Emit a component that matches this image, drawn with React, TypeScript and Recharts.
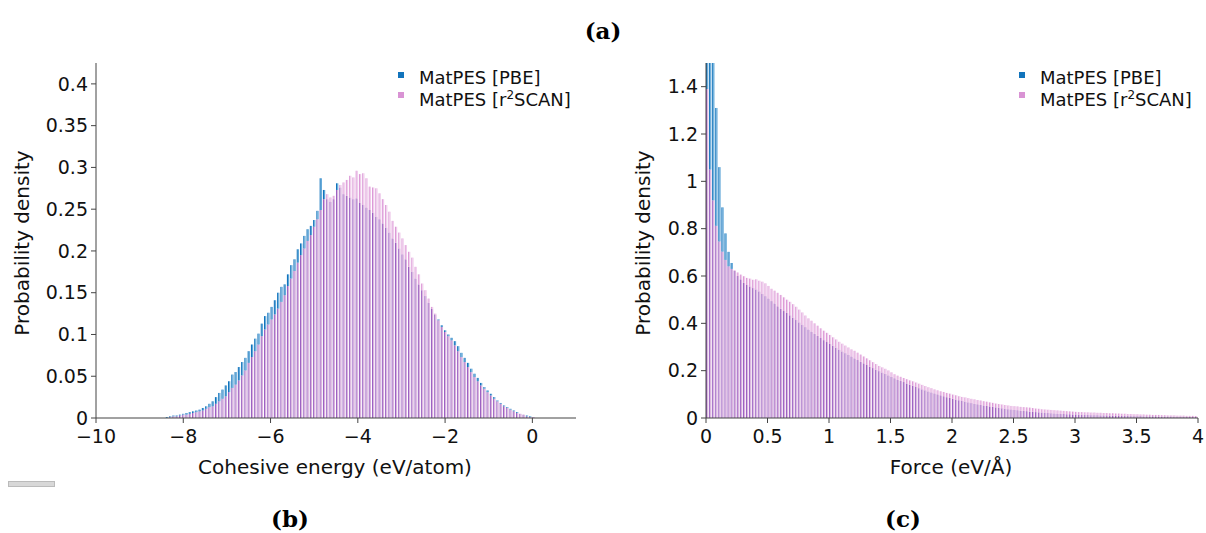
import React from 'react'
import { BarChart, Bar, XAxis, YAxis } from 'recharts'

// (b) cohesive energy histogram, bin width 0.075 eV starting at -8.4
const energyBinStart = -8.4
const energyBinWidth = 0.075
const energyPBE = [
  0.001, 0.002, 0.003, 0.003, 0.004, 0.005, 0.006, 0.007, 0.008, 0.009,
  0.010, 0.012, 0.014, 0.017, 0.020, 0.025, 0.030, 0.034, 0.039, 0.044,
  0.052, 0.055, 0.061, 0.067, 0.072, 0.080, 0.088, 0.095, 0.101, 0.113,
  0.122, 0.126, 0.133, 0.141, 0.150, 0.157, 0.160, 0.172, 0.183, 0.190,
  0.202, 0.209, 0.218, 0.226, 0.230, 0.237, 0.248, 0.287, 0.273, 0.262,
  0.259, 0.262, 0.281, 0.276, 0.268, 0.266, 0.264, 0.262, 0.263, 0.258,
  0.255, 0.252, 0.249, 0.246, 0.241, 0.238, 0.233, 0.228, 0.222, 0.215,
  0.210, 0.203, 0.196, 0.190, 0.181, 0.175, 0.167, 0.160, 0.153, 0.146,
  0.138, 0.131, 0.124, 0.118, 0.111, 0.105, 0.100, 0.096, 0.092, 0.086,
  0.078, 0.072, 0.066, 0.059, 0.053, 0.048, 0.042, 0.037, 0.033, 0.029,
  0.025, 0.021, 0.018, 0.015, 0.013, 0.011, 0.009, 0.007, 0.005, 0.004,
  0.003, 0.002, 0.001, 0.000,
]
const energyR2SCAN = [
  0.000, 0.001, 0.002, 0.002, 0.003, 0.004, 0.004, 0.005, 0.006, 0.007,
  0.008, 0.009, 0.011, 0.013, 0.014, 0.017, 0.020, 0.023, 0.026, 0.031,
  0.036, 0.040, 0.045, 0.051, 0.057, 0.066, 0.073, 0.080, 0.088, 0.098,
  0.106, 0.112, 0.118, 0.124, 0.131, 0.139, 0.147, 0.158, 0.167, 0.176,
  0.186, 0.195, 0.203, 0.212, 0.219, 0.229, 0.238, 0.249, 0.262, 0.268,
  0.264, 0.266, 0.273, 0.279, 0.282, 0.285, 0.290, 0.288, 0.296, 0.292,
  0.293, 0.287, 0.277, 0.276, 0.275, 0.269, 0.262, 0.255, 0.247, 0.236,
  0.229, 0.222, 0.215, 0.207, 0.199, 0.192, 0.181, 0.172, 0.161, 0.153,
  0.143, 0.133, 0.125, 0.117, 0.109, 0.103, 0.098, 0.093, 0.087, 0.080,
  0.073, 0.067, 0.061, 0.055, 0.049, 0.044, 0.039, 0.035, 0.031, 0.027,
  0.023, 0.020, 0.017, 0.014, 0.012, 0.010, 0.008, 0.006, 0.005, 0.004,
  0.002, 0.001, 0.001, 0.000,
]

// (c) force histogram, bin width 0.025 eV/Å starting at 0
const forceBinStart = 0
const forceBinWidth = 0.025
const forcePBE = [
  2.850, 2.410, 1.920, 1.310, 1.060, 0.890, 0.780, 0.702, 0.655, 0.622,
  0.600, 0.586, 0.571, 0.562, 0.556, 0.549, 0.543, 0.535, 0.524, 0.515,
  0.505, 0.494, 0.484, 0.472, 0.462, 0.452, 0.444, 0.434, 0.424, 0.414,
  0.404, 0.394, 0.384, 0.374, 0.365, 0.356, 0.347, 0.338, 0.329, 0.321,
  0.313, 0.305, 0.297, 0.289, 0.281, 0.274, 0.267, 0.260, 0.252, 0.245,
  0.238, 0.231, 0.224, 0.217, 0.211, 0.204, 0.198, 0.192, 0.186, 0.180,
  0.174, 0.168, 0.162, 0.157, 0.152, 0.146, 0.141, 0.136, 0.131, 0.126,
  0.121, 0.117, 0.112, 0.108, 0.104, 0.100, 0.096, 0.092, 0.088, 0.085,
  0.081, 0.078, 0.075, 0.072, 0.069, 0.066, 0.063, 0.060, 0.058, 0.055,
  0.053, 0.051, 0.049, 0.047, 0.045, 0.043, 0.041, 0.039, 0.037, 0.036,
  0.034, 0.033, 0.031, 0.030, 0.029, 0.027, 0.026, 0.025, 0.024, 0.023,
  0.022, 0.021, 0.020, 0.019, 0.018, 0.018, 0.017, 0.016, 0.016, 0.015,
  0.015, 0.014, 0.014, 0.013, 0.013, 0.012, 0.012, 0.012, 0.011, 0.011,
  0.011, 0.010, 0.010, 0.010, 0.009, 0.009, 0.009, 0.009, 0.008, 0.008,
  0.008, 0.008, 0.007, 0.007, 0.007, 0.007, 0.007, 0.006, 0.006, 0.006,
  0.006, 0.006, 0.005, 0.005, 0.005, 0.005, 0.005, 0.005, 0.004, 0.004,
]
const forceR2SCAN = [
  1.390, 1.050, 0.920, 0.812, 0.746, 0.703, 0.668, 0.641, 0.630, 0.624,
  0.615, 0.606, 0.599, 0.592, 0.589, 0.584, 0.586, 0.580, 0.576, 0.569,
  0.558, 0.546, 0.538, 0.529, 0.520, 0.510, 0.500, 0.491, 0.481, 0.470,
  0.458, 0.446, 0.433, 0.421, 0.411, 0.400, 0.390, 0.379, 0.369, 0.360,
  0.351, 0.341, 0.332, 0.322, 0.314, 0.306, 0.298, 0.290, 0.284, 0.276,
  0.268, 0.260, 0.252, 0.244, 0.236, 0.228, 0.220, 0.214, 0.208, 0.201,
  0.193, 0.185, 0.179, 0.174, 0.169, 0.164, 0.159, 0.155, 0.150, 0.145,
  0.140, 0.135, 0.130, 0.126, 0.121, 0.117, 0.113, 0.110, 0.106, 0.103,
  0.099, 0.096, 0.092, 0.089, 0.087, 0.084, 0.081, 0.079, 0.076, 0.074,
  0.071, 0.069, 0.066, 0.064, 0.061, 0.059, 0.057, 0.055, 0.053, 0.051,
  0.050, 0.049, 0.047, 0.046, 0.045, 0.044, 0.042, 0.040, 0.039, 0.037,
  0.036, 0.035, 0.034, 0.033, 0.032, 0.031, 0.030, 0.029, 0.028, 0.027,
  0.026, 0.025, 0.025, 0.024, 0.024, 0.023, 0.023, 0.022, 0.022, 0.021,
  0.021, 0.020, 0.020, 0.019, 0.019, 0.018, 0.018, 0.017, 0.017, 0.016,
  0.016, 0.015, 0.015, 0.014, 0.014, 0.013, 0.013, 0.013, 0.012, 0.012,
  0.011, 0.011, 0.011, 0.010, 0.010, 0.010, 0.009, 0.009, 0.009, 0.008,
]

const energyTicks = [-10, -8, -6, -4, -2, 0]
const energyDensityTicks = [0, 0.05, 0.1, 0.15, 0.2, 0.25, 0.3, 0.35, 0.4]
const forceTicks = [0, 0.5, 1, 1.5, 2, 2.5, 3, 3.5, 4]
const forceDensityTicks = [0, 0.2, 0.4, 0.6, 0.8, 1, 1.2, 1.4]

const FONT = '"DejaVu Sans", sans-serif'
const AXIS = '#444'

const fmt = (v: number) => (v < 0 ? '\u2212' + Math.abs(v) : String(v))

function buildRows(start: number, width: number, pbe: number[], r2: number[]) {
  return pbe.map((p, i) => ({
    x: start + width * (i + 0.5),
    both: Math.min(p, r2[i]),
    pbeOnly: Math.max(0, p - r2[i]),
    r2Only: Math.max(0, r2[i] - p),
  }))
}

// striped bar look: a dark line on the left edge, lighter fill, thin white gap
const striped = (dark: string, light: string) => (props: any) => {
  const { x, y, width, height } = props
  if (!height || height <= 0) return <g />
  const w = Math.max(width - 0.7, 0.6)
  const d = Math.min(1.1, w)
  return (
    <g>
      <rect x={x} y={y} width={d} height={height} fill={dark} />
      <rect x={x + d} y={y} width={Math.max(w - d, 0)} height={height} fill={light} />
    </g>
  )
}

interface HistProps {
  rows: any[]
  width: number
  marginLeft: number
  marginRight: number
  xDomain: [number, number]
  xTicks: number[]
  yDomain: [number, number]
  yTicks: number[]
}

function Histogram({ rows, width, marginLeft, marginRight, xDomain, xTicks, yDomain, yTicks }: HistProps) {
  const tick = { fontSize: 19, fill: '#111', fontFamily: FONT }
  return (
    <BarChart
      width={width}
      height={533}
      data={rows}
      margin={{ top: 63, right: marginRight, bottom: 85, left: marginLeft }}
      barCategoryGap={0}
      barGap={0}
    >
      <XAxis
        type="number"
        dataKey="x"
        domain={xDomain}
        ticks={xTicks}
        tickFormatter={fmt}
        allowDataOverflow
        height={30}
        tick={tick}
        tickSize={5}
        tickMargin={7}
        stroke={AXIS}
        interval={0}
      />
      <YAxis
        type="number"
        domain={yDomain}
        ticks={yTicks}
        tickFormatter={fmt}
        allowDataOverflow
        width={60}
        tick={tick}
        tickSize={5}
        tickMargin={3}
        stroke={AXIS}
        interval={0}
      />
      <Bar dataKey="both" stackId="h" isAnimationActive={false} shape={striped('#9c62c2', '#d9b1dd')} />
      <Bar dataKey="pbeOnly" stackId="h" isAnimationActive={false} shape={striped('#1274bc', '#5fa6d8')} />
      <Bar dataKey="r2Only" stackId="h" isAnimationActive={false} shape={striped('#dc9ad7', '#efcbeb')} />
    </BarChart>
  )
}

function LegendBox({ left }: { left: number }) {
  const text: React.CSSProperties = { position: 'absolute', left: left + 21, fontFamily: FONT, fontSize: 18, color: '#111', lineHeight: '20px', whiteSpace: 'nowrap' }
  const sq: React.CSSProperties = { position: 'absolute', left: left, width: 6, height: 6 }
  return (
    <>
      <div style={{ ...sq, top: 72, background: '#1274bc' }} />
      <div style={{ ...text, top: 68 }}>MatPES [PBE]</div>
      <div style={{ ...sq, top: 92, background: '#d993d4' }} />
      <div style={{ ...text, top: 90 }}>
        MatPES [r<sup style={{ fontSize: 12, verticalAlign: 'super', lineHeight: 0 }}>2</sup>SCAN]
      </div>
    </>
  )
}

export default function App() {
  const energyRows = buildRows(energyBinStart, energyBinWidth, energyPBE, energyR2SCAN)
  const forceRows = buildRows(forceBinStart, forceBinWidth, forcePBE, forceR2SCAN)
  const title: React.CSSProperties = { position: 'absolute', fontFamily: FONT, fontSize: 20, color: '#111', whiteSpace: 'nowrap' }
  const panel: React.CSSProperties = { position: 'absolute', fontFamily: '"DejaVu Serif", serif', fontWeight: 'bold', fontSize: 23, color: '#000', transform: 'translate(-50%, -50%)' }
  return (
    <div style={{ position: 'absolute', left: 0, top: 0, width: 1206, height: 533, background: '#fff', overflow: 'hidden' }}>
      <div style={{ ...panel, left: 603, top: 30 }}>(a)</div>
      <div style={{ ...panel, left: 290, top: 518 }}>(b)</div>
      <div style={{ ...panel, left: 903, top: 518 }}>(c)</div>

      <div style={{ position: 'absolute', left: 0, top: 0 }}>
        <Histogram
          rows={energyRows}
          width={600}
          marginLeft={36}
          marginRight={24}
          xDomain={[-10, 1]}
          xTicks={energyTicks}
          yDomain={[0, 0.425]}
          yTicks={energyDensityTicks}
        />
      </div>
      <div style={{ position: 'absolute', left: 600, top: 0 }}>
        <Histogram
          rows={forceRows}
          width={606}
          marginLeft={46}
          marginRight={8}
          xDomain={[0, 4]}
          xTicks={forceTicks}
          yDomain={[0, 1.5]}
          yTicks={forceDensityTicks}
        />
      </div>

      <LegendBox left={398} />
      <LegendBox left={1019} />

      <div style={{ ...title, left: 335, top: 467, transform: 'translate(-50%, -50%)' }}>Cohesive energy (eV/atom)</div>
      <div style={{ ...title, left: 951, top: 467, transform: 'translate(-50%, -50%)' }}>Force (eV/Å)</div>
      <div style={{ ...title, left: 22, top: 243, transform: 'translate(-50%, -50%) rotate(-90deg)' }}>Probability density</div>
      <div style={{ ...title, left: 643, top: 243, transform: 'translate(-50%, -50%) rotate(-90deg)' }}>Probability density</div>

      <div style={{ position: 'absolute', left: 8, top: 481, width: 45, height: 4, background: '#d8d8d8', border: '1px solid #bbb' }} />
    </div>
  )
}
